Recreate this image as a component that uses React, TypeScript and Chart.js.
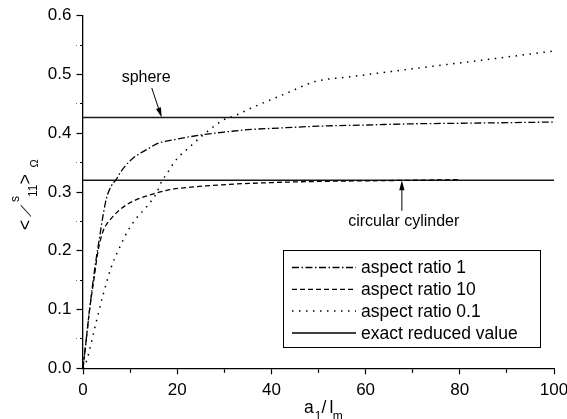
import React, { useEffect, useRef } from 'react';
import { Chart, registerables } from 'chart.js';

Chart.register(...registerables);

const FONT = '"Liberation Sans", Arial, Helvetica, sans-serif';

// ---- axes ----
const X_MIN = 0;
const X_MAX = 100;
const X_STEP = 10;
const X_LABEL_EVERY = 20;
const Y_MIN = 0;
const Y_MAX = 0.6;
const Y_STEP = 0.05;
const Y_LABEL_EVERY = 0.1;

// ---- series: aspect ratio 1 (dash-dot) ----
const ar1X = [0, 0.7, 1.4, 2.5, 3.5, 4.3, 5, 6, 7.1, 8, 9.6, 11, 13.5, 16, 20, 25, 30, 35, 42, 50, 60, 70, 80, 90, 100];
const ar1Y = [0, 0.05, 0.1, 0.17, 0.222, 0.262, 0.29, 0.31, 0.322, 0.334, 0.35, 0.36, 0.372, 0.383, 0.39, 0.397, 0.402, 0.406, 0.409, 0.412, 0.414, 0.416, 0.417, 0.418, 0.419];

// ---- series: aspect ratio 10 (dashed) ----
const ar10X = [0, 0.7, 1.4, 2.3, 3.2, 4.2, 5, 6, 7.4, 9.6, 12, 15, 18.4, 24, 31, 40, 50, 60, 70, 80];
const ar10Y = [0, 0.05, 0.1, 0.15, 0.2, 0.232, 0.245, 0.255, 0.267, 0.28, 0.289, 0.297, 0.304, 0.309, 0.313, 0.316, 0.318, 0.319, 0.32, 0.321];

// ---- series: aspect ratio 0.1 (dotted) ----
const ar01X = [0, 0.7, 2.5, 4.3, 6, 7.8, 9.6, 11.3, 13.5, 15.6, 16.7, 17.8, 19.5, 20.6, 22, 25.5, 29.8, 32.6, 35.5, 43.2, 49.3, 56.7, 70.8, 85, 100];
const ar01Y = [0, 0.011, 0.069, 0.126, 0.172, 0.206, 0.235, 0.255, 0.275, 0.298, 0.318, 0.331, 0.352, 0.362, 0.372, 0.397, 0.4225, 0.431, 0.442, 0.468, 0.488, 0.496, 0.5105, 0.5246, 0.54];

// ---- exact reduced values ----
const exactX = [0, 100];
const sphereValue = 0.4266;
const cylinderValue = 0.32;

// ---- legend labels ----
const legendLabels = ['aspect ratio 1', 'aspect ratio 10', 'aspect ratio 0.1', 'exact reduced value'];

// ---- annotations (data coordinates) ----
const sphereNote = { text: 'sphere', x: 13.4, y: 0.494, fromX: 14.6, fromY: 0.477, toX: 16.7, toY: sphereValue };
const cylinderNote = { text: 'circular cylinder', x: 68.1, y: 0.2495, fromX: 67.7, fromY: 0.268, toX: 67.7, toY: cylinderValue };

// ---- styles ----
const DASH_DOT = [7, 2.5, 1.5, 2.5];
const DASHED = [5, 3];
const DOTTED = [1.5, 5.5];

const zip = (xs: number[], ys: number[]) => xs.map((x, i) => ({ x, y: ys[i] }));

function drawArrow(ctx: CanvasRenderingContext2D, x1: number, y1: number, x2: number, y2: number) {
  const ang = Math.atan2(y2 - y1, x2 - x1);
  const len = 10;
  const hw = 2.6;
  ctx.save();
  ctx.strokeStyle = '#000';
  ctx.fillStyle = '#000';
  ctx.lineWidth = 1;
  ctx.beginPath();
  ctx.moveTo(x1, y1);
  ctx.lineTo(x2 - Math.cos(ang) * len * 0.8, y2 - Math.sin(ang) * len * 0.8);
  ctx.stroke();
  ctx.beginPath();
  ctx.moveTo(x2, y2);
  ctx.lineTo(x2 - Math.cos(ang) * len - Math.sin(ang) * hw, y2 - Math.sin(ang) * len + Math.cos(ang) * hw);
  ctx.lineTo(x2 - Math.cos(ang) * len + Math.sin(ang) * hw, y2 - Math.sin(ang) * len - Math.cos(ang) * hw);
  ctx.closePath();
  ctx.fill();
  ctx.restore();
}

const annotationPlugin = {
  id: 'annotations',
  afterDatasetsDraw(chart: any) {
    const ctx: CanvasRenderingContext2D = chart.ctx;
    const xs = chart.scales.x;
    const ys = chart.scales.y;
    ctx.save();
    ctx.fillStyle = '#000';
    ctx.font = `16px ${FONT}`;
    ctx.textAlign = 'center';
    ctx.textBaseline = 'middle';
    for (const n of [sphereNote, cylinderNote]) {
      ctx.fillText(n.text, xs.getPixelForValue(n.x), ys.getPixelForValue(n.y));
      drawArrow(
        ctx,
        xs.getPixelForValue(n.fromX),
        ys.getPixelForValue(n.fromY),
        xs.getPixelForValue(n.toX),
        ys.getPixelForValue(n.toY)
      );
    }
    ctx.restore();
  },
};

const legendPlugin = {
  id: 'boxLegend',
  afterDraw(chart: any) {
    const ctx: CanvasRenderingContext2D = chart.ctx;
    const left = 283.5;
    const top = 250.5;
    const right = 540.5;
    const bottom = 347.5;
    ctx.save();
    ctx.strokeStyle = '#000';
    ctx.lineWidth = 1;
    ctx.setLineDash([]);
    ctx.strokeRect(left, top, right - left, bottom - top);
    const styles = [
      { dash: DASH_DOT, w: 1.3 },
      { dash: DASHED, w: 1.3 },
      { dash: DOTTED, w: 1.5 },
      { dash: [] as number[], w: 1.5 },
    ];
    ctx.font = `17.5px ${FONT}`;
    ctx.textAlign = 'left';
    ctx.textBaseline = 'middle';
    ctx.fillStyle = '#000';
    legendLabels.forEach((label, i) => {
      const y = 267.5 + i * 21.8;
      ctx.beginPath();
      ctx.lineWidth = styles[i].w;
      ctx.setLineDash(styles[i].dash);
      ctx.lineCap = 'butt';
      ctx.moveTo(292, y);
      ctx.lineTo(356, y);
      ctx.stroke();
      ctx.setLineDash([]);
      ctx.fillText(label, 361, y + 1);
    });
    ctx.restore();
  },
};

const titlePlugin = {
  id: 'axisTitles',
  afterDraw(chart: any) {
    const ctx: CanvasRenderingContext2D = chart.ctx;
    ctx.save();
    ctx.fillStyle = '#000';
    ctx.textAlign = 'left';
    ctx.textBaseline = 'alphabetic';
    // x title: a1/lm
    ctx.font = `17.5px ${FONT}`;
    ctx.fillText('a', 304, 413.3);
    ctx.font = `12px ${FONT}`;
    ctx.fillText('1', 314.7, 419.5);
    ctx.font = `17.5px ${FONT}`;
    ctx.fillText('/', 321.5, 413.3);
    ctx.fillText('l', 329.5, 413.3);
    ctx.font = `12px ${FONT}`;
    ctx.fillText('m', 332.7, 419.5);

    // y title: <I^s_11>_Ω (rotated)
    ctx.translate(31, 229);
    ctx.rotate(-Math.PI / 2);
    ctx.font = `17.5px ${FONT}`;
    ctx.fillText('<', -1, 0);
    ctx.save();
    ctx.translate(10.5, 0);
    ctx.transform(1, 0, -1.1, 1, 0, 0);
    ctx.font = `15px ${FONT}`;
    ctx.fillText('I', 0, 0);
    ctx.restore();
    ctx.font = `12px ${FONT}`;
    ctx.fillText('s', 27, -12.5);
    ctx.fillText('11', 32, 6.3);
    ctx.font = `17.5px ${FONT}`;
    ctx.fillText('>', 44.8, 0);
    ctx.font = `11px ${FONT}`;
    ctx.fillText('Ω', 61.5, 6.5);
    ctx.restore();
  },
};

const isMultiple = (v: number, step: number) => Math.abs(v / step - Math.round(v / step)) < 1e-6;

export default function App() {
  const ref = useRef<HTMLCanvasElement | null>(null);

  useEffect(() => {
    if (!ref.current) return;
    const lineBase = {
      pointRadius: 0,
      pointHoverRadius: 0,
      fill: false,
      borderColor: '#000',
      borderCapStyle: 'butt' as const,
      cubicInterpolationMode: 'monotone' as const,
    };
    const chart = new Chart(ref.current, {
      type: 'line',
      data: {
        datasets: [
          { ...lineBase, label: legendLabels[0], data: zip(ar1X, ar1Y), borderDash: DASH_DOT, borderWidth: 1.3 },
          { ...lineBase, label: legendLabels[1], data: zip(ar10X, ar10Y), borderDash: DASHED, borderWidth: 1.3 },
          { ...lineBase, label: legendLabels[2], data: zip(ar01X, ar01Y), borderDash: DOTTED, borderWidth: 1.5 },
          { ...lineBase, label: legendLabels[3], data: zip(exactX, exactX.map(() => sphereValue)), borderWidth: 1.5, borderColor: '#1a1a1a' },
          { ...lineBase, label: legendLabels[3] + ' (cylinder)', data: zip(exactX, exactX.map(() => cylinderValue)), borderWidth: 1.5, borderColor: '#1a1a1a' },
        ],
      },
      options: {
        responsive: false,
        animation: false,
        events: [],
        layout: { autoPadding: false, padding: { left: 0, top: 15.7, right: 13, bottom: 0 } },
        plugins: { legend: { display: false }, tooltip: { enabled: false }, title: { display: false } },
        scales: {
          x: {
            type: 'linear',
            min: X_MIN,
            max: X_MAX,
            afterFit: (s: any) => {
              s.height = 50.7;
              s.paddingLeft = 0;
              s.paddingRight = 0;
            },
            ticks: {
              stepSize: X_STEP,
              autoSkip: false,
              maxRotation: 0,
              color: '#000',
              padding: 6,
              font: { family: FONT, size: 17 },
              callback: (v: any) => (isMultiple(Number(v), X_LABEL_EVERY) ? String(v) : ''),
            },
            grid: {
              drawOnChartArea: false,
              drawTicks: true,
              tickLength: 6,
              tickColor: '#000',
              tickWidth: 1.2,
              tickBorderDash: (c: any) => (c.tick && !isMultiple(c.tick.value, X_LABEL_EVERY) ? [3.5, 20] : []),
            },
            border: { display: true, color: '#000', width: 1.3 },
          },
          y: {
            type: 'linear',
            min: Y_MIN,
            max: Y_MAX,
            afterFit: (s: any) => {
              s.width = 83;
              s.paddingTop = 0;
              s.paddingBottom = 0;
            },
            ticks: {
              stepSize: Y_STEP,
              autoSkip: false,
              color: '#000',
              padding: 5,
              font: { family: FONT, size: 17 },
              callback: (v: any) => (isMultiple(Number(v), Y_LABEL_EVERY) ? Number(v).toFixed(1) : ''),
            },
            grid: {
              drawOnChartArea: false,
              drawTicks: true,
              tickLength: 6.5,
              tickColor: '#000',
              tickWidth: 1.2,
              tickBorderDash: (c: any) => (c.tick && !isMultiple(c.tick.value, Y_LABEL_EVERY) ? [3.5, 3] : []),
              tickBorderDashOffset: (c: any) => (c.tick && !isMultiple(c.tick.value, Y_LABEL_EVERY) ? 3 : 0),
            },
            border: { display: true, color: '#000', width: 1.3 },
          },
        },
      },
      plugins: [annotationPlugin, legendPlugin, titlePlugin],
    } as any);
    return () => chart.destroy();
  }, []);

  return (
    <div style={{ position: 'absolute', left: 0, top: 0, width: 567, height: 419, background: '#fff' }}>
      <canvas ref={ref} width={567} height={419} style={{ width: 567, height: 419, display: 'block' }} />
    </div>
  );
}
